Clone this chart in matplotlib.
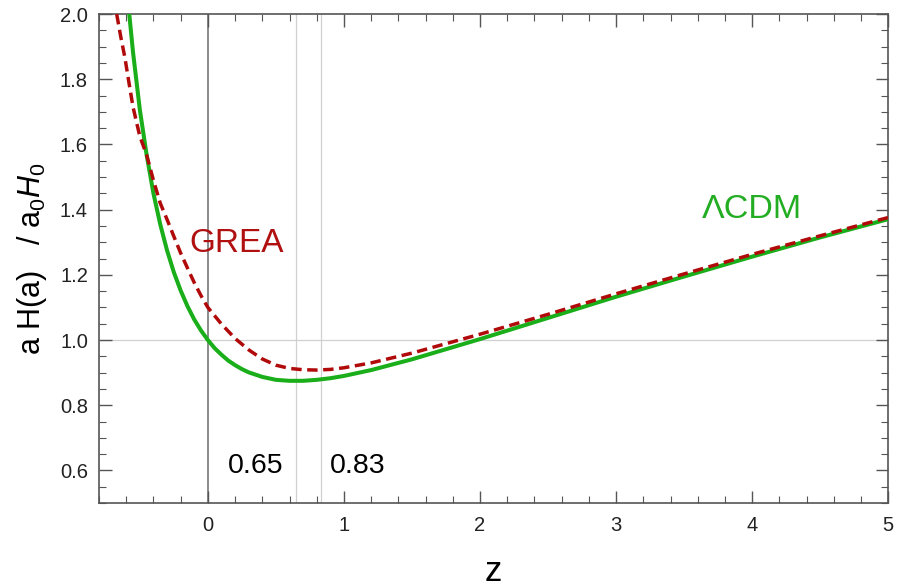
import matplotlib
matplotlib.use("Agg")
import matplotlib.pyplot as plt
from matplotlib.ticker import MultipleLocator

plt.rcParams['font.family'] = ['Liberation Sans', 'DejaVu Sans']
plt.rcParams['mathtext.fontset'] = 'custom'
plt.rcParams['mathtext.rm'] = 'Liberation Sans'
plt.rcParams['mathtext.it'] = 'Liberation Sans:italic'

# LCDM curve
z_lcdm = [-0.58, -0.55, -0.50, -0.45, -0.40, -0.35, -0.30, -0.25, -0.20, -0.15,
          -0.10, -0.05, 0.00, 0.05, 0.10, 0.15, 0.20, 0.25, 0.30, 0.40, 0.50,
          0.60, 0.70, 0.80, 0.90, 1.00, 1.20, 1.50, 2.00, 2.50, 3.00, 3.50,
          4.00, 4.50, 5.00]
h_lcdm = [2.010, 1.883, 1.707, 1.568, 1.450, 1.355, 1.275, 1.208, 1.152, 1.104,
          1.063, 1.029, 1.000, 0.975, 0.955, 0.937, 0.923, 0.911, 0.901, 0.887, 0.878,
          0.875, 0.875, 0.878, 0.883, 0.890, 0.908, 0.941, 1.003, 1.068, 1.133, 1.195,
          1.256, 1.315, 1.371]

# GREA curve
z_grea = [-0.67, -0.64, -0.61, -0.58, -0.55, -0.50, -0.45, -0.40, -0.35, -0.30,
          -0.25, -0.20, -0.15, -0.10, -0.05, 0.00, 0.10, 0.20, 0.30, 0.40, 0.50,
          0.60, 0.70, 0.80, 0.90, 1.00, 1.20, 1.50, 2.00, 2.50, 3.00, 3.50,
          4.00, 4.50, 5.00]
h_grea = [2.000, 1.930, 1.867, 1.790, 1.715, 1.625, 1.568, 1.490, 1.420, 1.370,
          1.318, 1.267, 1.221, 1.176, 1.136, 1.100, 1.049, 1.005, 0.970, 0.942, 0.923,
          0.913, 0.909, 0.908, 0.910, 0.915, 0.930, 0.960, 1.018, 1.079, 1.142, 1.203,
          1.263, 1.320, 1.376]

z_min_marks = [0.65, 0.83]
min_labels = ['0.65', '0.83']

fig = plt.figure(figsize=(9, 5.87), dpi=100)
ax = fig.add_axes([0.11, 0.143, 0.877, 0.833])

# reference lines
ax.axvline(0, color='#777777', lw=1.2, zorder=1)
for zm in z_min_marks:
    ax.axvline(zm, color='#d0d0d0', lw=0.9, zorder=1)
ax.axhline(1.0, color='#d0d0d0', lw=0.9, zorder=1)

ax.plot(z_lcdm, h_lcdm, color='#1aae1a', lw=2.9, zorder=3)
ax.plot(z_grea, h_grea, color='#b00a0a', lw=2.5, dashes=(3, 1.6), zorder=4)

ax.text(0.21, 1.297, 'GREA', color='#b01010', fontsize=24, ha='center', va='center')
ax.text(4.0, 1.402, 'ΛCDM', color='#22ad22', fontsize=24.5, ha='center', va='center')
for zm, lab, xt in zip(z_min_marks, min_labels, [0.353, 1.10]):
    ax.text(xt, 0.613, lab, color='black', fontsize=20.5, ha='center', va='center')

ax.set_xlim(-0.8, 5)
ax.set_ylim(0.5, 2.0)
ax.xaxis.set_major_locator(MultipleLocator(1))
ax.xaxis.set_minor_locator(MultipleLocator(0.2))
ax.yaxis.set_major_locator(MultipleLocator(0.2))
ax.yaxis.set_minor_locator(MultipleLocator(0.05))
ax.set_yticks([0.6, 0.8, 1.0, 1.2, 1.4, 1.6, 1.8, 2.0])
ax.set_yticklabels(['0.6', '0.8', '1.0', '1.2', '1.4', '1.6', '1.8', '2.0'])

ax.tick_params(which='both', direction='in', top=True, right=True,
               color='#555555', labelsize=14.5, labelcolor='#222222')
ax.tick_params(axis='x', pad=9)
ax.tick_params(axis='y', pad=8)
ax.tick_params(which='major', length=9, width=1)
ax.tick_params(which='minor', length=5, width=0.8)
for s in ax.spines.values():
    s.set_color('#555555')
    s.set_linewidth(1.2)

ax.set_xlabel('z', fontsize=25, labelpad=15)
ax.set_ylabel(r'a H(a)   / a$_0$$\mathit{H}_0$', fontsize=22, labelpad=8)

fig.savefig('out.png', dpi=100)
